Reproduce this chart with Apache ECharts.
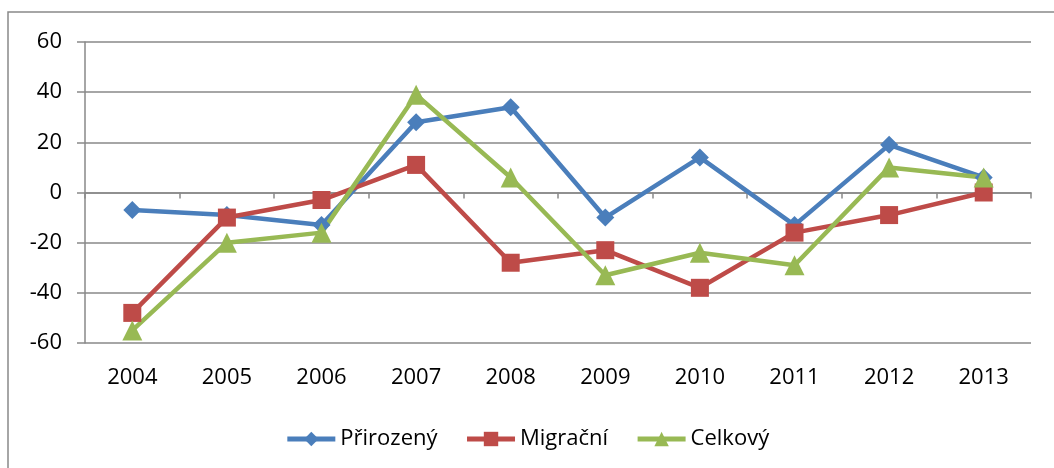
<!DOCTYPE html>
<html>
<head>
<meta charset="utf-8">
<script src="https://cdn.jsdelivr.net/npm/echarts@6/dist/echarts.min.js"></script>
<style>
  html, body { margin: 0; padding: 0; background: #fff; }
  #chart { width: 1054px; height: 468px; }
</style>
</head>
<body>
<div id="chart"></div>
<script>
// roky a hodnoty
const years = ['2004', '2005', '2006', '2007', '2008', '2009', '2010', '2011', '2012', '2013'];
const prirozeny = [-7, -9, -13, 28, 34, -10, 14, -13, 19, 6];
const migracni = [-48, -10, -3, 11, -28, -23, -38, -16, -9, 0];
const celkovy = [-55, -20, -16, 39, 6, -33, -24, -29, 10, 6];

const gray = '#898989';
const font = "'Open Sans', 'Liberation Sans', sans-serif";

const chart = echarts.init(document.getElementById('chart'));

const makeSeries = (name, data, color, symbol, size) => ({
  name: name,
  type: 'line',
  data: data,
  xAxisIndex: 0,
  symbol: symbol,
  symbolSize: size,
  lineStyle: { color: color, width: 4.5 },
  itemStyle: { color: color },
  emphasis: { disabled: true },
  animation: false
});

chart.setOption({
  animation: false,
  graphic: [{
    type: 'rect',
    shape: { x: 8, y: 12, width: 1100, height: 500 },
    style: { fill: 'none', stroke: gray, lineWidth: 1.5 },
    silent: true
  }],
  grid: { left: 85, right: 23, top: 42, bottom: 125 },
  legend: {
    top: 423,
    left: 'center',
    itemWidth: 48,
    itemHeight: 18,
    itemGap: 27,
    lineStyle: { width: 5 },
    textStyle: { fontFamily: font, fontSize: 22, color: '#000' },
    data: ['Přirozený', 'Migrační', 'Celkový']
  },
  xAxis: [
    {
      type: 'category',
      data: years,
      position: 'bottom',
      axisLine: { show: false, onZero: false },
      axisTick: { show: false },
      splitLine: { show: false },
      axisLabel: { fontFamily: font, fontSize: 22, color: '#000', margin: 24 }
    },
    {
      // osa v nule s dílky, bez popisků
      type: 'category',
      data: years,
      position: 'bottom',
      axisLine: { show: true, onZero: true, lineStyle: { color: gray, width: 1.5 } },
      axisTick: { show: true, length: 6, lineStyle: { color: gray, width: 1.5 } },
      axisLabel: { show: false },
      splitLine: { show: false }
    }
  ],
  yAxis: {
    type: 'value',
    min: -60,
    max: 60,
    interval: 20,
    axisLine: { show: true, lineStyle: { color: gray, width: 1.5 } },
    axisTick: { show: true, length: 8, lineStyle: { color: gray, width: 1.5 } },
    splitLine: { lineStyle: { color: gray, width: 1.5 } },
    axisLabel: { fontFamily: font, fontSize: 22, color: '#000', margin: 23 }
  },
  series: [
    makeSeries('Přirozený', prirozeny, '#4A7EBB', 'diamond', 18),
    makeSeries('Migrační', migracni, '#BE4B48', 'rect', 18),
    makeSeries('Celkový', celkovy, '#98B954', 'triangle', 20)
  ]
});
</script>
</body>
</html>
